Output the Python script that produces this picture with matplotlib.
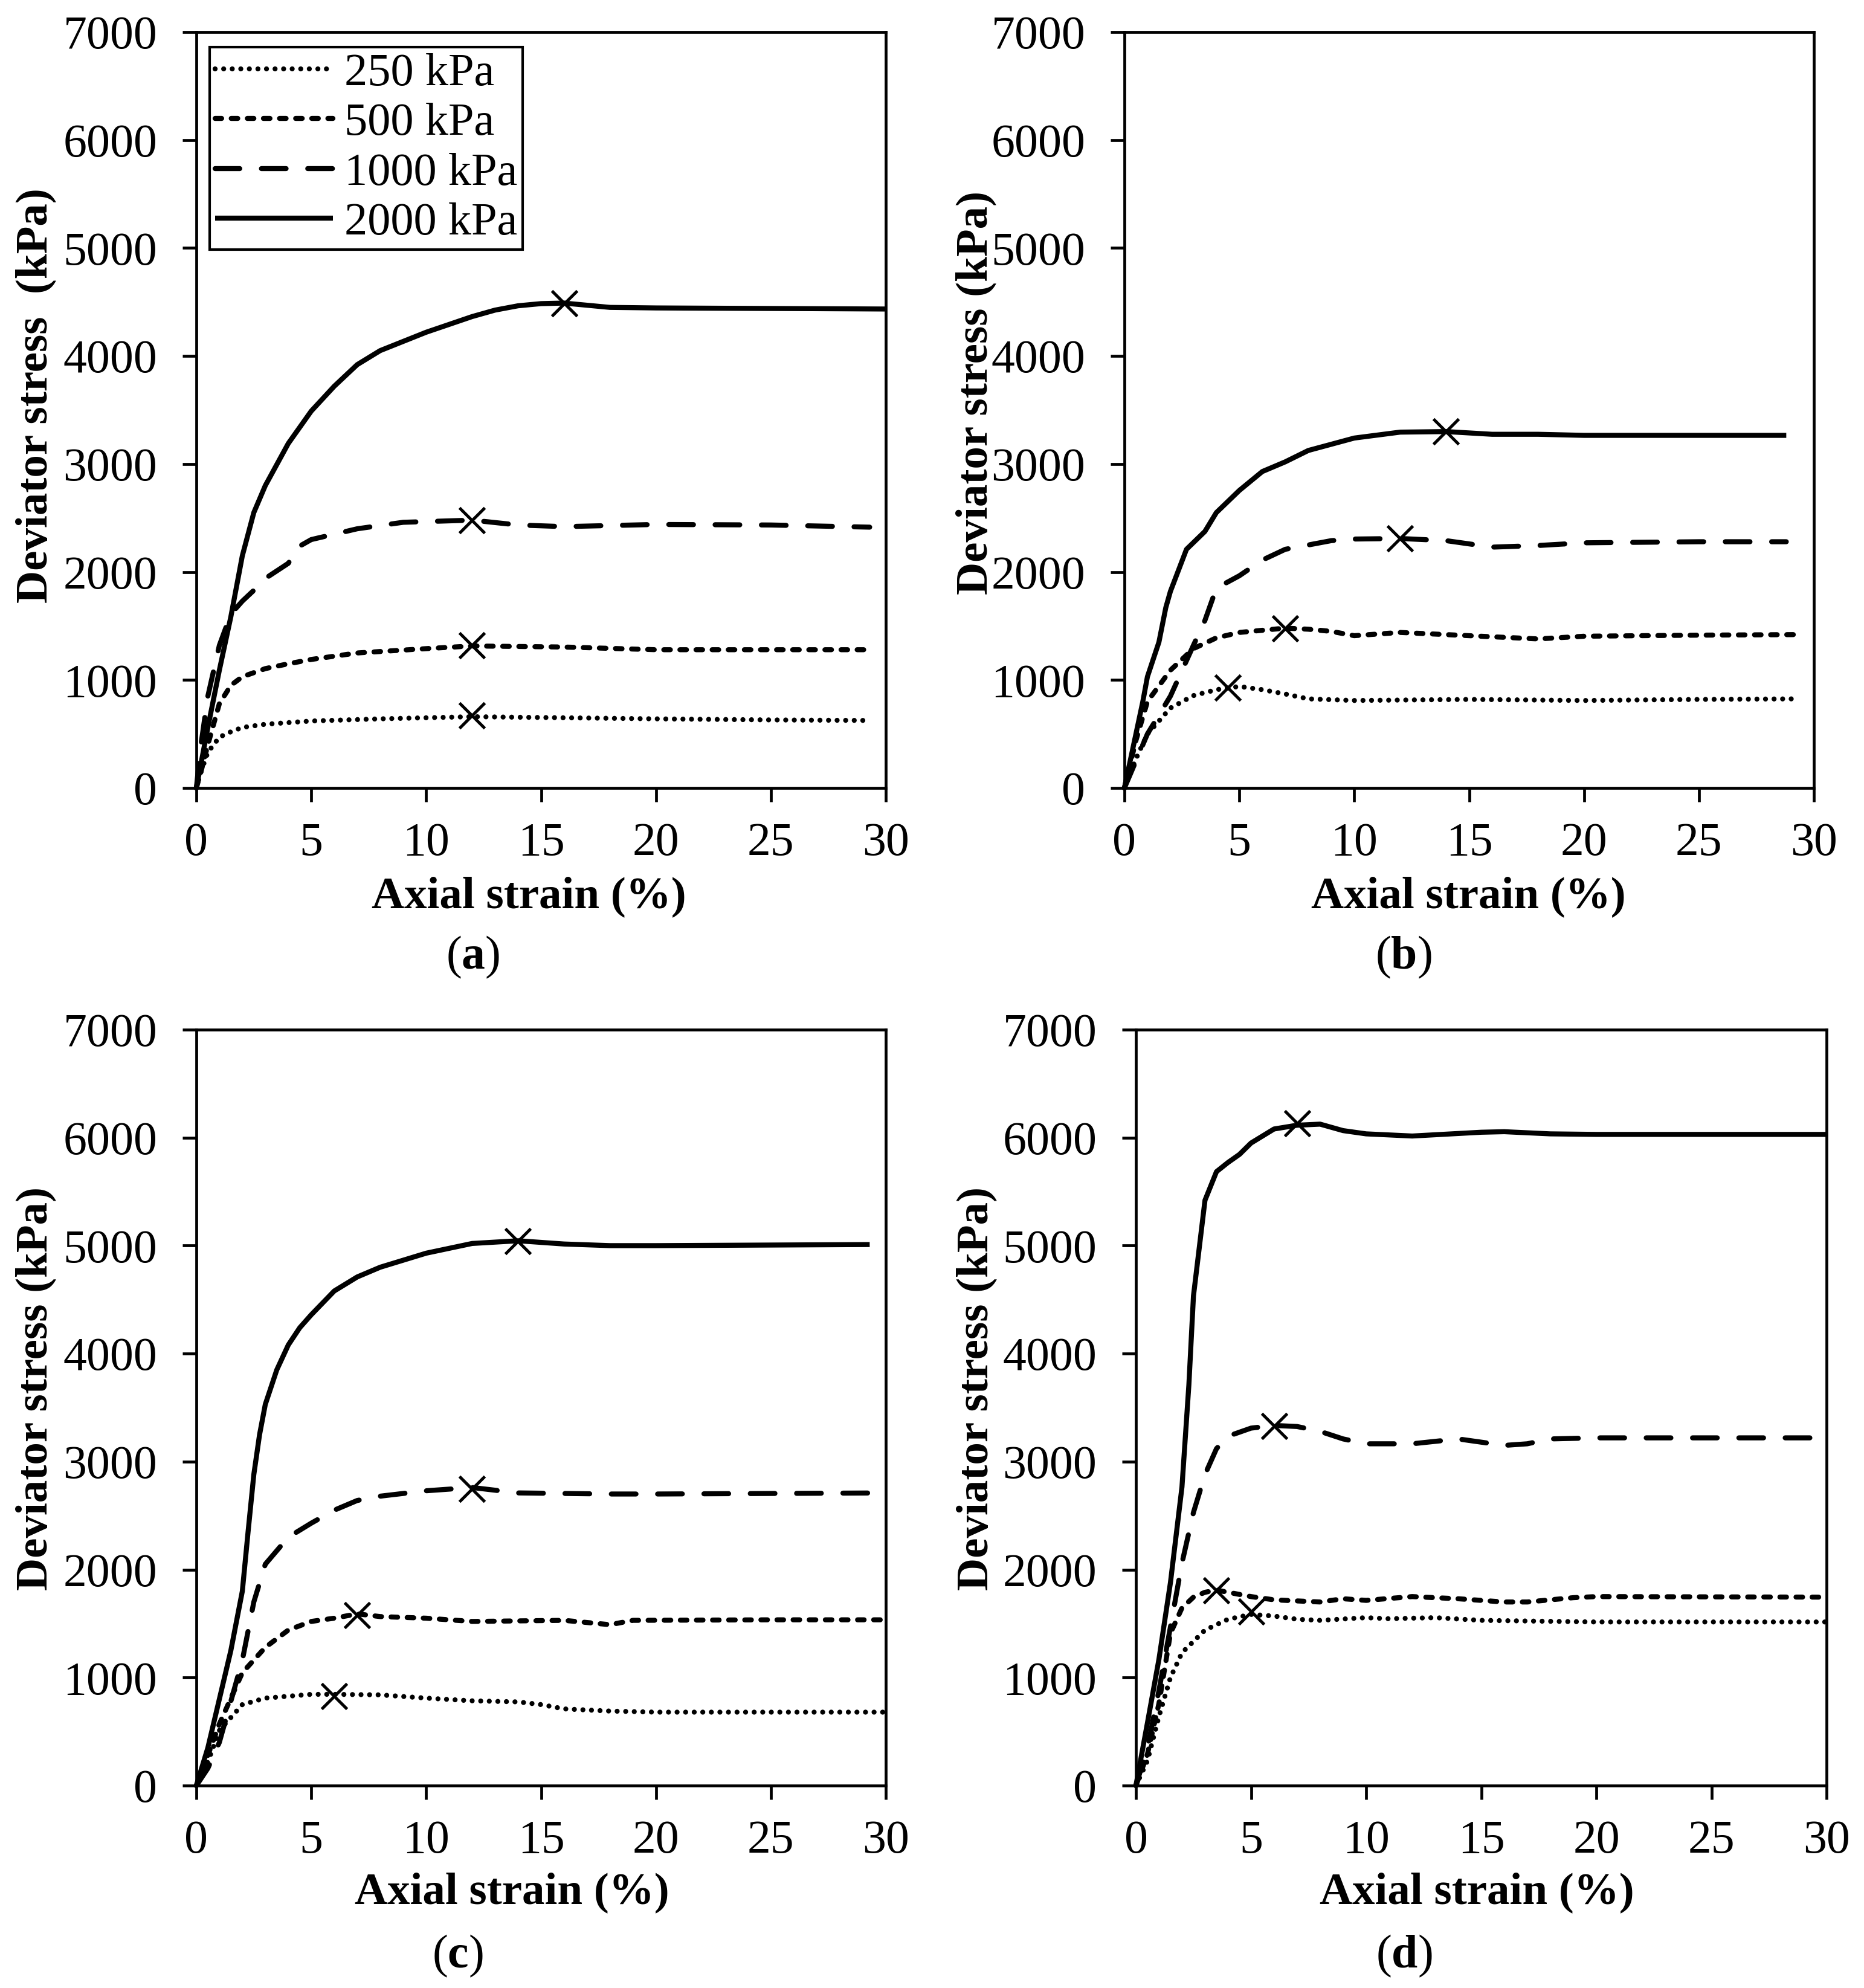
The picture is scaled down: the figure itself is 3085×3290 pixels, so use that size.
import matplotlib
matplotlib.use('Agg')
import matplotlib.pyplot as plt

plt.rcParams['font.family'] = ['Liberation Serif', 'DejaVu Serif']
plt.rcParams['mathtext.fontset'] = 'custom'
plt.rcParams['mathtext.rm'] = 'Liberation Serif'
plt.rcParams['mathtext.bf'] = 'Liberation Serif:bold'

# ---------------- data ----------------
PRESSURES = ['250 kPa', '500 kPa', '1000 kPa', '2000 kPa']
X_TICKS = [0, 5, 10, 15, 20, 25, 30]
Y_TICKS = [0, 1000, 2000, 3000, 4000, 5000, 6000, 7000]

# panel (a)
A_X_250 = [0, 0.2, 0.5, 1, 1.5, 2, 3, 5, 8, 10, 12, 16, 20, 25, 29.3]
A_Y_250 = [0, 150, 330, 470, 520, 560, 590, 620, 640, 650, 660, 650, 640, 630, 625]
A_X_500 = [0, 0.2, 0.5, 1, 1.5, 2, 3, 4, 5, 7, 10, 12, 16, 20, 25, 29.3]
A_Y_500 = [0, 150, 400, 780, 950, 1030, 1105, 1150, 1190, 1250, 1290, 1315, 1305, 1280, 1280, 1280]
A_X_1000 = [0, 0.2, 0.5, 1, 1.5, 2, 2.5, 3, 4, 4.5, 5, 7, 9, 12, 14, 16, 20, 25, 29.3]
A_Y_1000 = [0, 400, 850, 1320, 1610, 1730, 1830, 1940, 2080, 2240, 2300, 2400, 2460, 2480, 2435, 2420, 2440, 2435, 2415]
A_X_2000 = [0, 0.5, 1, 1.5, 2, 2.5, 3, 4, 5, 6, 7, 8, 10, 12, 13, 14, 15, 16, 17, 18, 20, 25, 30]
A_Y_2000 = [0, 560, 1090, 1585, 2150, 2550, 2800, 3190, 3490, 3720, 3920, 4050, 4220, 4365, 4425, 4465, 4485, 4490, 4470, 4450, 4445, 4440, 4435]
A_PEAK_X = [12, 12, 12, 16]
A_PEAK_Y = [670, 1320, 2480, 4490]

# panel (b)
B_X_250 = [0, 0.5, 1, 2, 3, 4, 4.5, 5, 6, 7, 8, 10, 15, 20, 25, 29.2]
B_Y_250 = [0, 270, 500, 740, 855, 910, 925, 940, 910, 870, 825, 810, 820, 810, 820, 825]
B_X_500 = [0, 0.5, 1, 2, 3, 4, 5, 7, 8, 9, 10, 12, 15, 18, 20, 25, 29.2]
B_Y_500 = [0, 440, 800, 1090, 1290, 1390, 1440, 1480, 1470, 1450, 1410, 1440, 1410, 1380, 1405, 1415, 1420]
B_X_1000 = [0, 1, 2, 3, 3.5, 4, 5, 6, 7, 9, 10, 12, 14, 16, 18, 20, 25, 28.8]
B_Y_1000 = [0, 500, 850, 1320, 1550, 1850, 1965, 2110, 2210, 2290, 2305, 2310, 2290, 2230, 2245, 2270, 2280, 2280]
B_X_2000 = [0, 0.5, 0.8, 1, 1.5, 1.8, 2, 2.7, 3.5, 4, 5, 6, 7, 8, 10, 12, 14, 16, 18, 20, 28.8]
B_Y_2000 = [0, 500, 800, 1030, 1350, 1670, 1820, 2210, 2375, 2550, 2755, 2930, 3020, 3125, 3240, 3295, 3300, 3275, 3275, 3265, 3265]
B_PEAK_X = [4.5, 7, 12, 14]
B_PEAK_Y = [930, 1480, 2310, 3300]

# panel (c)
C_X_250 = [0, 0.5, 1, 2, 3, 5, 6, 8, 10, 12, 14, 15, 16, 18, 20, 25, 30]
C_Y_250 = [0, 220, 510, 750, 810, 845, 845, 840, 810, 785, 775, 750, 710, 690, 680, 680, 680]
C_X_500 = [0, 0.5, 1, 2, 3, 4, 5, 6, 7, 8, 10, 12, 16, 18, 19, 25, 30]
C_Y_500 = [0, 280, 570, 1045, 1280, 1440, 1520, 1550, 1590, 1565, 1550, 1520, 1530, 1490, 1530, 1535, 1535]
C_X_1000 = [0, 0.5, 1, 2, 2.5, 3, 4, 5, 6, 7, 8, 10, 12, 14, 18, 20, 30]
C_Y_1000 = [0, 160, 400, 1160, 1700, 2050, 2300, 2430, 2550, 2640, 2680, 2730, 2760, 2710, 2700, 2700, 2710]
C_X_2000 = [0, 0.5, 1, 1.5, 2, 2.25, 2.5, 2.75, 3, 3.5, 4, 4.5, 5, 6, 7, 8, 10, 12, 14, 16, 18, 20, 29.3]
C_Y_2000 = [0, 350, 800, 1250, 1800, 2350, 2880, 3250, 3530, 3850, 4080, 4240, 4360, 4580, 4710, 4800, 4930, 5020, 5045, 5015, 5000, 5000, 5010]
C_PEAK_X = [6, 7, 12, 14]
C_PEAK_Y = [830, 1580, 2750, 5040]

# panel (d)
D_X_250 = [0, 0.5, 1, 1.5, 2, 3, 4, 5, 6, 7, 8, 10, 11, 13, 15, 20, 30]
D_Y_250 = [0, 230, 640, 1000, 1230, 1440, 1540, 1585, 1570, 1540, 1530, 1555, 1545, 1555, 1530, 1515, 1515]
D_X_500 = [0, 0.5, 1, 1.5, 2, 2.5, 3, 3.5, 4, 5, 6, 8, 9, 10, 12, 14, 16, 17, 19, 20, 30]
D_Y_500 = [0, 290, 760, 1410, 1645, 1745, 1790, 1810, 1790, 1750, 1720, 1700, 1730, 1715, 1750, 1730, 1700, 1700, 1740, 1750, 1745]
D_X_1000 = [0, 0.5, 1, 1.5, 2, 2.5, 3, 3.5, 4, 5, 6, 7, 8, 9, 10, 12, 14, 16, 17, 18, 20, 30]
D_Y_1000 = [0, 350, 880, 1470, 2060, 2530, 2880, 3120, 3235, 3310, 3335, 3325, 3280, 3210, 3165, 3165, 3210, 3150, 3165, 3210, 3220, 3220]
D_X_2000 = [0, 0.5, 1, 1.5, 2, 2.3, 2.5, 3, 3.5, 4, 4.5, 5, 6, 7, 8, 9, 10, 12, 15, 16, 18, 20, 30]
D_Y_2000 = [0, 580, 1170, 1880, 2765, 3710, 4535, 5420, 5685, 5770, 5845, 5950, 6080, 6115, 6125, 6065, 6035, 6015, 6050, 6055, 6035, 6030, 6030]
D_PEAK_X = [5, 3.5, 6, 7]
D_PEAK_Y = [1610, 1810, 3330, 6130]

# ---------------- styles ----------------
LW = 3.0
LINE_STYLES = [
    dict(linestyle=(0, (0.001, 1.7)), dash_capstyle='round'),
    dict(linestyle=(0, (1.3, 1.9)), dash_capstyle='round'),
    dict(linestyle=(0, (4.9, 4.3)), dash_capstyle='round'),
    dict(linestyle='-', solid_capstyle='butt', solid_joinstyle='round'),
]

W, H = 3085, 3290
fig = plt.figure(figsize=(W / 200, H / 200), dpi=200)


def add_axes(l, r, t, b):
    return fig.add_axes([l / W, 1 - b / H, (r - l) / W, (b - t) / H])


panels = [
    dict(box=(325, 1466, 53, 1304),
         xs=[A_X_250, A_X_500, A_X_1000, A_X_2000], ys=[A_Y_250, A_Y_500, A_Y_1000, A_Y_2000],
         px=A_PEAK_X, py=A_PEAK_Y, letter='a', ylabel='Deviator stress  (kPa)',
         xl=(0.482, -0.144), yl=(-0.233, 0.519), pl=(0.401, -0.224), legend=True),
    dict(box=(1861, 3002, 53, 1304),
         xs=[B_X_250, B_X_500, B_X_1000, B_X_2000], ys=[B_Y_250, B_Y_500, B_Y_1000, B_Y_2000],
         px=B_PEAK_X, py=B_PEAK_Y, letter='b', ylabel='Deviator stress (kPa)',
         xl=(0.499, -0.144), yl=(-0.215, 0.523), pl=(0.405, -0.224), legend=False),
    dict(box=(325, 1466, 1704, 2955),
         xs=[C_X_250, C_X_500, C_X_1000, C_X_2000], ys=[C_Y_250, C_Y_500, C_Y_1000, C_Y_2000],
         px=C_PEAK_X, py=C_PEAK_Y, letter='c', ylabel='Deviator stress (kPa)',
         xl=(0.458, -0.142), yl=(-0.233, 0.525), pl=(0.379, -0.226), legend=False),
    dict(box=(1880, 3023, 1704, 2955),
         xs=[D_X_250, D_X_500, D_X_1000, D_X_2000], ys=[D_Y_250, D_Y_500, D_Y_1000, D_Y_2000],
         px=D_PEAK_X, py=D_PEAK_Y, letter='d', ylabel='Deviator stress (kPa)',
         xl=(0.494, -0.142), yl=(-0.231, 0.525), pl=(0.388, -0.226), legend=False),
]

for p in panels:
    ax = add_axes(*p['box'])
    handles = []
    for xv, yv, lab, st in zip(p['xs'], p['ys'], PRESSURES, LINE_STYLES):
        h, = ax.plot(xv, yv, color='black', lw=LW, label=lab, clip_on=False, **st)
        handles.append(h)
    ax.plot(p['px'], p['py'], linestyle='none', marker='x', ms=15, mew=1.8,
            color='black', zorder=5, clip_on=False)
    ax.set_xlim(0, 30)
    ax.set_ylim(0, 7000)
    ax.set_xticks(X_TICKS)
    ax.set_yticks(Y_TICKS)
    ax.tick_params(direction='out', length=8.3, width=1.7, labelsize=28)
    ax.tick_params(axis='y', pad=15)
    ax.tick_params(axis='x', pad=12)
    for s in ax.spines.values():
        s.set_linewidth(1.7)
    ax.set_xlabel('Axial strain (%)', fontsize=27, fontweight='bold', va='center')
    ax.xaxis.set_label_coords(*p['xl'])
    ax.set_ylabel(p['ylabel'], fontsize=27, fontweight='bold', va='center')
    ax.yaxis.set_label_coords(*p['yl'])
    ax.text(p['pl'][0], p['pl'][1], '(' + r'$\mathbf{' + p['letter'] + '}$' + ')',
            transform=ax.transAxes, ha='center', va='center', fontsize=28)
    if p['legend']:
        leg = ax.legend(handles=handles, loc='upper left', bbox_to_anchor=(0.019, 0.98),
                        borderaxespad=0, fontsize=27.5, handlelength=2.55,
                        handletextpad=0.25, labelspacing=0.17, borderpad=0.12,
                        fancybox=False, framealpha=1, edgecolor='black')
        leg.get_frame().set_linewidth(1.5)

fig.savefig('out.png', dpi=200, facecolor='white')
